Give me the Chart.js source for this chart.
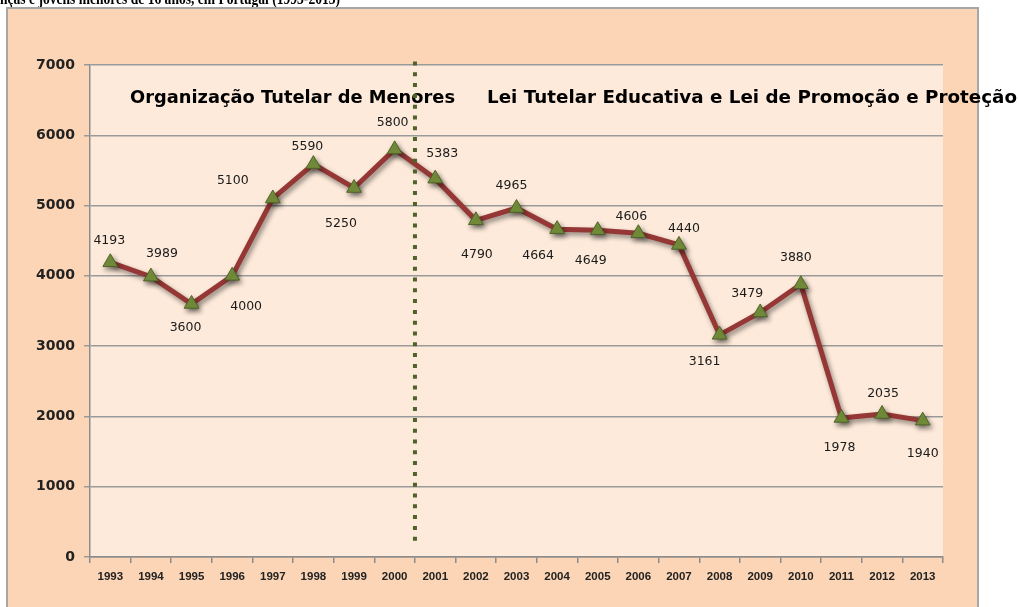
<!DOCTYPE html>
<html>
<head>
<meta charset="utf-8">
<script src="https://cdn.jsdelivr.net/npm/chart.js@4/dist/chart.umd.min.js"></script>
<style>
  html, body { margin: 0; padding: 0; background: #fff; }
  #wrap { position: relative; width: 1019px; height: 607px; }
</style>
</head>
<body>
<div id="wrap"><canvas id="myChart"></canvas></div>
<script>
"use strict";

// data
const years = ['1993', '1994', '1995', '1996', '1997', '1998', '1999', '2000', '2001', '2002', '2003',
	'2004', '2005', '2006', '2007', '2008', '2009', '2010', '2011', '2012', '2013'];
const cases = [4193, 3989, 3600, 4000, 5100, 5590, 5250, 5800, 5383, 4790, 4965,
	4664, 4649, 4606, 4440, 3161, 3479, 3880, 1978, 2035, 1940];
const yTicks = [0, 1000, 2000, 3000, 4000, 5000, 6000, 7000];

const titleText = 'nças e jovens menores de 16 anos, em Portugal (1993-2013)';
const periodLeft = 'Organização Tutelar de Menores';
const periodRight = 'Lei Tutelar Educativa e Lei de Promoção e Proteção';

// where each value label sits relative to its marker (px)
const labelShift = [
	[-1, -22], [11, -23], [-6, 24], [14, 31], [-40, -18], [-6, -17], [-13, 36], [-2, -27],
	[7, -25], [1, 34], [-5, -22], [-19, 27], [-7, 31], [-7, -17], [5, -16], [-15, 27],
	[-13, -19], [-5, -27], [-2, 30], [1, -20], [0, 33]
];

const backdrop = {
	id: 'backdrop',
	beforeDraw(chart) {
		const ctx = chart.ctx, a = chart.chartArea;
		ctx.save();
		ctx.fillStyle = '#ffffff';
		ctx.fillRect(0, 0, chart.width, chart.height);
		// title (clipped at top of the page)
		ctx.fillStyle = '#000';
		ctx.font = 'bold 16px "Liberation Serif"';
		ctx.textBaseline = 'alphabetic';
		ctx.fillText(titleText, 0, 4, 340);
		// outer chart box
		ctx.fillStyle = '#fbd5b5';
		ctx.fillRect(7, 8, 971, 620);
		ctx.strokeStyle = '#a6a6a6';
		ctx.lineWidth = 2;
		ctx.strokeRect(7, 8, 971, 620);
		// plot area
		ctx.fillStyle = '#fdeada';
		ctx.fillRect(a.left, a.top, a.right - a.left, a.bottom - a.top);
		ctx.restore();
	},
	beforeDatasetsDraw(chart) {
		const ctx = chart.ctx;
		ctx.save();
		ctx.shadowColor = 'rgba(0,0,0,0.45)';
		ctx.shadowBlur = 5;
		ctx.shadowOffsetX = 2;
		ctx.shadowOffsetY = 3;
	},
	afterDatasetsDraw(chart) {
		const ctx = chart.ctx;
		ctx.restore();

		const meta = chart.getDatasetMeta(0);
		ctx.save();
		ctx.font = '12.5px "DejaVu Sans"';
		ctx.fillStyle = '#1a1a1a';
		ctx.textAlign = 'center';
		ctx.textBaseline = 'middle';
		meta.data.forEach(function(pt, i) {
			ctx.fillText(String(cases[i]), pt.x + labelShift[i][0], pt.y + labelShift[i][1]);
		});

		// period captions
		ctx.fillStyle = '#000';
		ctx.font = 'bold 18.5px "DejaVu Sans"';
		ctx.textAlign = 'left';
		ctx.textBaseline = 'alphabetic';
		ctx.fillText(periodLeft, 130, 103, 325);
		ctx.fillText(periodRight, 487, 103, 530);

		// dotted divider between 2000 and 2001
		const xs = chart.scales.x, ys = chart.scales.y;
		const xd = (xs.getPixelForValue(7) + xs.getPixelForValue(8)) / 2;
		ctx.strokeStyle = '#4f6228';
		ctx.lineWidth = 4;
		ctx.setLineDash([4, 6.8]);
		ctx.beginPath();
		ctx.moveTo(xd, ys.getPixelForValue(7050));
		ctx.lineTo(xd, ys.getPixelForValue(140));
		ctx.stroke();
		ctx.restore();
	}
};

const ctx = document.getElementById('myChart');

new Chart(ctx, {
	type: 'line',
	data: {
		labels: years,
		datasets: [{
			data: cases,
			borderColor: '#953735',
			borderWidth: 5,
			tension: 0,
			pointStyle: 'triangle',
			pointRadius: 8.5,
			pointBackgroundColor: '#77933c',
			pointBorderColor: '#4f6228',
			pointBorderWidth: 1
		}]
	},
	options: {
		responsive: true,
		maintainAspectRatio: false,
		animation: false,
		events: [],
		layout: { padding: { left: 0, top: 65, right: 76, bottom: 0 } },
		plugins: {
			legend: { display: false },
			tooltip: { enabled: false }
		},
		scales: {
			x: {
				offset: true,
				grid: { offset: true, drawOnChartArea: false, tickLength: 6, color: '#8c8c8c', lineWidth: 1.5 },
				border: { color: '#8c8c8c', width: 1.5 },
				ticks: { autoSkip: false, maxRotation: 0, padding: 7, color: '#222',
					font: { family: '"Liberation Sans Narrow", "Liberation Sans"', size: 11.5, weight: 'bold' } },
				afterFit: function(s) { s.height = 50; }
			},
			y: {
				min: 0,
				max: 7000,
				afterBuildTicks: function(s) { s.ticks = yTicks.map(function(v) { return { value: v }; }); },
				grid: { color: '#9a9a9a', lineWidth: 1.5, tickLength: 6 },
				border: { color: '#8c8c8c', width: 1.5 },
				ticks: { padding: 9, color: '#222',
					callback: function(v) { return String(v); },
					font: { family: '"DejaVu Sans"', size: 14, weight: 'bold' } },
				afterFit: function(s) { s.width = 90; }
			}
		}
	},
	plugins: [backdrop]
});
</script>
</body>
</html>
